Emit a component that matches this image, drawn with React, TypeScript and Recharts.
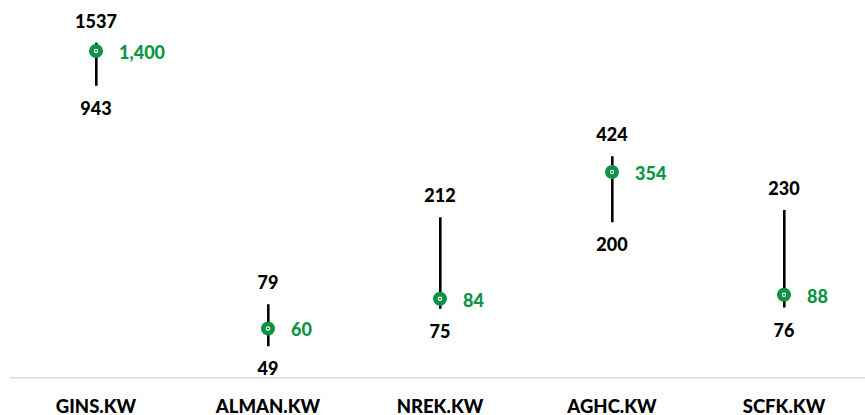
import React from "react";
import { ComposedChart, Bar, Line, XAxis, YAxis } from "recharts";

const tickers = ["GINS.KW", "ALMAN.KW", "NREK.KW", "AGHC.KW", "SCFK.KW"];
const lowValues = [943, 49, 75, 200, 76];
const highValues = [1537, 79, 212, 424, 230];
const currentValues = [1400, 60, 84, 354, 88];

const data = tickers.map((name, i) => ({
  name,
  low: lowValues[i],
  high: highValues[i],
  cur: currentValues[i],
  range: [lowValues[i], highValues[i]],
}));

const GREEN = "#0b9444";
const FONT = "Lato, 'Open Sans', sans-serif";
const FS = 18;
const FW = 900;

const fmt = (v: number) => v.toLocaleString("en-US");

const HighLabel = (p: any) => (
  <text x={p.x} y={p.y - 22} textAnchor="middle" dominantBaseline="central"
    fontFamily={FONT} fontWeight={FW} fontSize={FS} fill="#000">{p.value}</text>
);
const LowLabel = (p: any) => (
  <text x={p.x} y={p.y + 22} textAnchor="middle" dominantBaseline="central"
    fontFamily={FONT} fontWeight={FW} fontSize={FS} fill="#000">{p.value}</text>
);
const CurLabel = (p: any) => (
  <text x={p.x + 23} y={p.y + 1} textAnchor="start" dominantBaseline="central"
    fontFamily={FONT} fontWeight={FW} fontSize={FS} fill={GREEN}>{fmt(p.value)}</text>
);
const CurDot = (p: any) => (
  <g key={`d${p.index}`}>
    <circle cx={p.cx} cy={p.cy} r={7} fill={GREEN} />
    <circle cx={p.cx} cy={p.cy} r={2.2} fill="#fff" />
    <circle cx={p.cx} cy={p.cy} r={0.9} fill="#222" />
  </g>
);
const Tick = (p: any) => (
  <text x={p.x} y={p.y + 35} textAnchor="middle"
    fontFamily={FONT} fontWeight={FW} fontSize={18.5} fill="#000">{p.payload.value}</text>
);

export default function App() {
  return (
    <div style={{ position: "absolute", left: 0, top: 0 }}>
      <ComposedChart width={870} height={415} data={data}
        margin={{ top: 7, right: 0, left: 10, bottom: 0 }}>
        <XAxis dataKey="name" height={37.3} tickLine={false} tickSize={0} tickMargin={0}
          axisLine={{ stroke: "#d9d9d9", strokeWidth: 1.5 }} tick={<Tick />} interval={0} />
        <YAxis hide scale="log" domain={[34.3, 2305]} allowDataOverflow type="number" />
        <Bar dataKey="range" barSize={2.6} fill="#000" isAnimationActive={false} />
        <Line dataKey="high" stroke="none" dot={false} activeDot={false} label={<HighLabel />} isAnimationActive={false} />
        <Line dataKey="low" stroke="none" dot={false} activeDot={false} label={<LowLabel />} isAnimationActive={false} />
        <Line dataKey="cur" stroke="none" dot={<CurDot />} activeDot={false} label={<CurLabel />} isAnimationActive={false} />
      </ComposedChart>
    </div>
  );
}
